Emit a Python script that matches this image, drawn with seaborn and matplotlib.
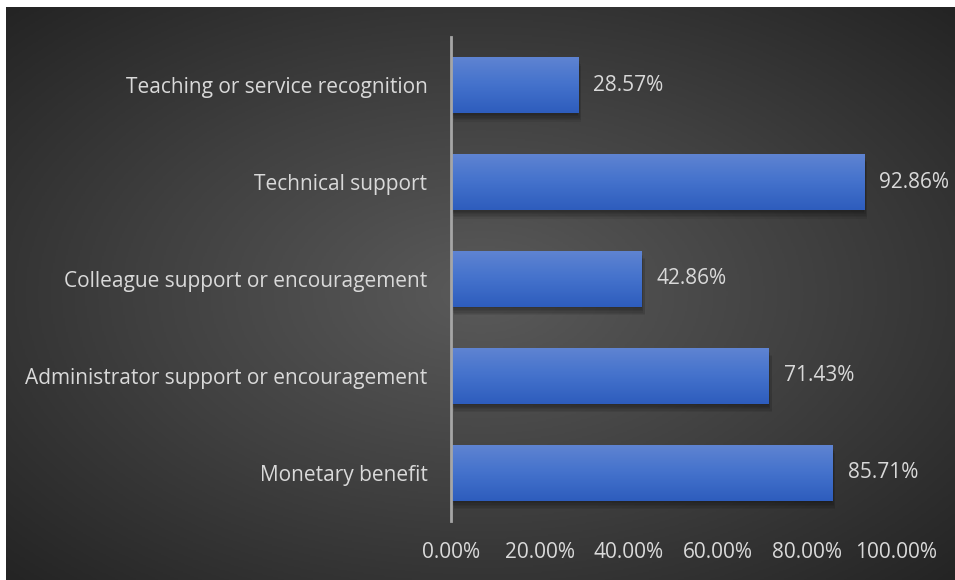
import numpy as np
import pandas as pd
import matplotlib
matplotlib.use("Agg")
import matplotlib.pyplot as plt
import matplotlib.patheffects as pe
from matplotlib.colors import LinearSegmentedColormap
import seaborn as sns

categories = [
    "Teaching or service recognition",
    "Technical support",
    "Colleague support or encouragement",
    "Administrator support or encouragement",
    "Monetary benefit",
]
values = [28.57, 92.86, 42.86, 71.43, 85.71]
x_ticks = [0, 20, 40, 60, 80, 100]

df = pd.DataFrame({"category": categories, "value": values})

sns.set_style("white")
plt.rcParams["font.family"] = ["Open Sans", "DejaVu Sans"]

W, H = 955, 580
FS = 15
TXT = "#d9d9d9"
fig = plt.figure(figsize=(W / 100, H / 100), dpi=100)
fig.patch.set_facecolor("white")

# dark radial-gradient backdrop
bg = fig.add_axes([6 / W, 0, 1 - 6 / W, 1 - 7 / H], zorder=0)
bg.set_axis_off()
yy, xx = np.mgrid[0:1:400j, 0:1:600j]
r = np.sqrt(((xx - 0.5) / 0.62) ** 2 + ((yy - 0.5) / 0.62) ** 2)
r = np.clip(r / r.max(), 0, 1)
bg_cmap = LinearSegmentedColormap.from_list("bg", ["#5a5a5a", "#404040", "#242424"])
bg.imshow(r, cmap=bg_cmap, aspect="auto", extent=[0, 1, 0, 1], vmin=0, vmax=1)

ax = fig.add_axes([451 / W, 1 - 521 / H, (896 - 451) / W, (521 - 37) / H], zorder=1)
ax.patch.set_alpha(0)

sns.barplot(data=df, y="category", x="value", orient="h", width=0.58,
            color="#3f6cc8", ax=ax, saturation=1, linewidth=0, edgecolor="none")

# soft drop shadow (stacked faint offsets) and a vertical gradient on each bar
shadow = [pe.SimplePatchShadow(offset=(dx, dy), shadow_rgbFace="black", alpha=0.07)
          for dx, dy in [(0, -1), (0, -2), (1, -3), (1, -4), (2, -5), (2, -6)]]
bar_cmap = LinearSegmentedColormap.from_list("bar", ["#5f84d2", "#4472cc", "#2e5dbd"])
grad = np.linspace(0, 1, 64).reshape(-1, 1)
for patch in ax.patches:
    patch.set_path_effects(shadow + [pe.Normal()])
    x0, y0 = patch.get_x(), patch.get_y()
    w, h = patch.get_width(), patch.get_height()
    im = ax.imshow(grad, cmap=bar_cmap, aspect="auto",
                   extent=[x0, x0 + w, y0 + h, y0], origin="upper", zorder=3)
    im.set_clip_path(patch)

for patch, v in zip(ax.patches, values):
    ax.text(patch.get_width() + 3.4, patch.get_y() + patch.get_height() / 2,
            f"{v:.2f}%", va="center", ha="left", color=TXT, fontsize=FS)

ax.set_xlim(0, 100)
ax.set_ylim(len(categories) - 0.5, -0.5)
ax.set_xticks(x_ticks)
ax.set_xticklabels([f"{t:.2f}%" for t in x_ticks])
ax.set_xlabel("")
ax.set_ylabel("")
ax.tick_params(axis="y", length=0, pad=17, labelsize=FS, labelcolor=TXT)
ax.tick_params(axis="x", length=0, pad=15, labelsize=FS, labelcolor=TXT)
for s in ["top", "right", "bottom"]:
    ax.spines[s].set_visible(False)
ax.spines["left"].set_color("#a6a6a6")
ax.spines["left"].set_linewidth(2)
ax.spines["left"].set_zorder(5)

fig.savefig("out.png", dpi=100, facecolor=fig.get_facecolor())
